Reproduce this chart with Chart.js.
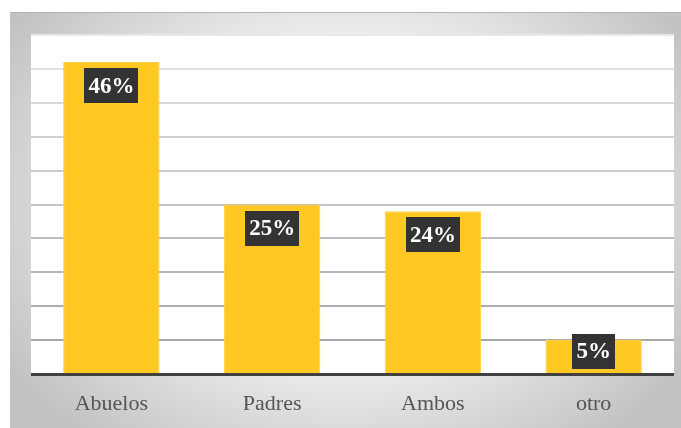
<!DOCTYPE html>
<html>
<head>
<meta charset="utf-8">
<script src="https://cdn.jsdelivr.net/npm/chart.js@4/dist/chart.umd.min.js"></script>
<style>
  html, body { margin: 0; padding: 0; background: #fff; }
  #frame {
    position: absolute; left: 10px; top: 12px; width: 671px; height: 416px;
    background: radial-gradient(ellipse 60% 75% at 50% 45%, #ffffff 0%, #f4f4f4 45%, #c2c2c2 100%);
    border-top: 1px solid #b4b4b4;
    box-sizing: border-box;
  }
  #wrap { position: absolute; left: 0; top: 0; width: 681px; height: 428px; }
</style>
</head>
<body>
<div id="frame"></div>
<div id="wrap"><canvas id="chart" width="681" height="428"></canvas></div>
<script>
// Who the kids live with
const categories = ['Abuelos', 'Padres', 'Ambos', 'otro'];
const shares = [46, 25, 24, 5];
const yMax = 50;
const yStep = 5;

// white plot background behind grid and bars
const plotBackground = {
  id: 'plotBackground',
  beforeDraw(chart) {
    const { ctx, chartArea: a } = chart;
    ctx.save();
    ctx.fillStyle = '#ffffff';
    ctx.fillRect(a.left, a.top, a.right - a.left, a.bottom - a.top);
    ctx.restore();
  }
};

// dark boxes with the percentage, just under each bar top
const valueBoxes = {
  id: 'valueBoxes',
  afterDatasetsDraw(chart) {
    const { ctx, chartArea } = chart;
    const meta = chart.getDatasetMeta(0);
    ctx.save();
    ctx.font = 'bold 23px "Liberation Serif", "Times New Roman", serif';
    ctx.textAlign = 'center';
    ctx.textBaseline = 'middle';
    meta.data.forEach((bar, i) => {
      const text = shares[i] + '%';
      const w = ctx.measureText(text).width + 8;
      const h = 35;
      let cy = bar.y + 23.5;
      if (cy + h / 2 > chartArea.bottom - 5) cy = chartArea.bottom - 5 - h / 2;
      ctx.fillStyle = '#333333';
      ctx.fillRect(Math.round(bar.x - w / 2), Math.round(cy - h / 2), Math.round(w), h);
      ctx.fillStyle = '#ffffff';
      ctx.fillText(text, bar.x, cy + 1);
    });
    ctx.restore();
  }
};

// heavy baseline along the category axis
const baseLine = {
  id: 'baseLine',
  afterDatasetsDraw(chart) {
    const { ctx, chartArea: a } = chart;
    ctx.save();
    ctx.fillStyle = '#404040';
    ctx.fillRect(a.left, a.bottom - 1, a.right - a.left, 3);
    ctx.restore();
  }
};

function gridShade(ctx) {
  const v = ctx.tick ? ctx.tick.value : 0;
  const t = v / yMax;                 // 0 at bottom, 1 at top
  const g = Math.round(160 + (232 - 160) * t);
  return `rgb(${g},${g},${g})`;
}

new Chart(document.getElementById('chart'), {
  type: 'bar',
  data: {
    labels: categories,
    datasets: [{
      data: shares,
      backgroundColor: '#FFC822',
      borderColor: '#FFD24A',
      borderWidth: 1,
      categoryPercentage: 0.6,
      barPercentage: 1.0
    }]
  },
  options: {
    responsive: false,
    animation: false,
    layout: { padding: { left: 31, right: 7, top: 35, bottom: 0 } },
    plugins: { legend: { display: false }, tooltip: { enabled: false } },
    scales: {
      x: {
        grid: { display: false, drawTicks: false },
        border: { display: false },
        ticks: {
          color: '#555555',
          padding: 17,
          font: { family: '"Liberation Serif", "Times New Roman", serif', size: 22 }
        },
        afterFit(scale) { scale.height = 54; }
      },
      y: {
        min: 0,
        max: yMax,
        ticks: { display: false, stepSize: yStep },
        grid: { color: gridShade, lineWidth: 2, drawTicks: false },
        border: { display: false },
        afterFit(scale) { scale.width = 0; }
      }
    }
  },
  plugins: [plotBackground, valueBoxes, baseLine]
});
</script>
</body>
</html>
